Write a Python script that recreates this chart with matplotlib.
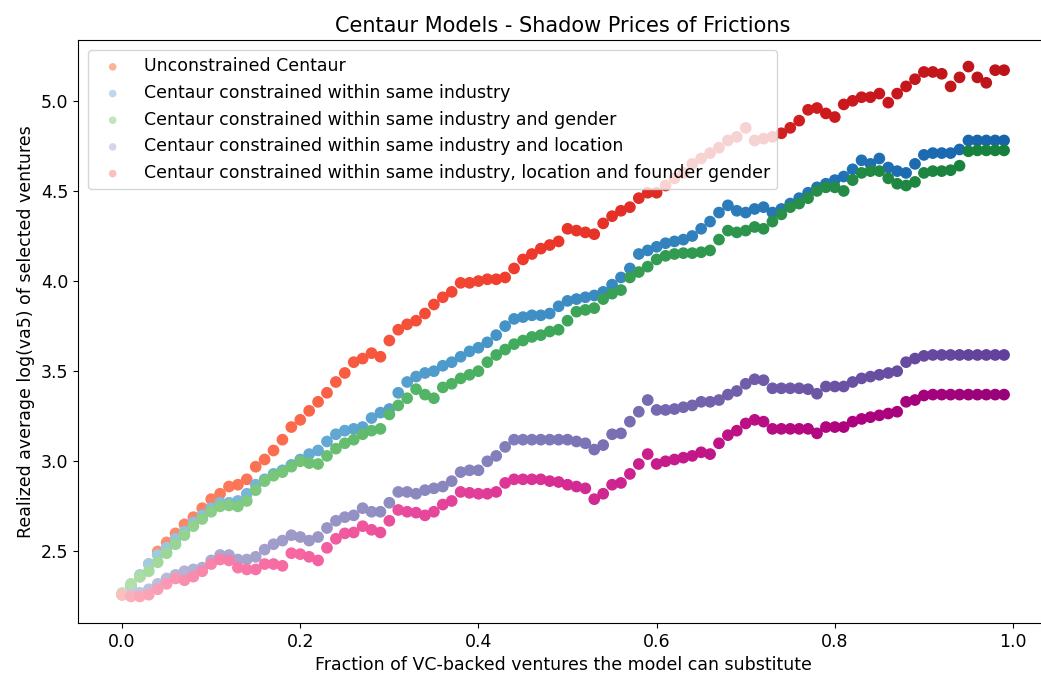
import numpy as np
import matplotlib
matplotlib.use("Agg")
import matplotlib.pyplot as plt

# fraction of VC-backed ventures the model can substitute
frac = np.round(np.arange(100) * 0.01, 2)

unconstrained = [
    2.26, 2.30, 2.36, 2.43, 2.50, 2.55, 2.60, 2.65, 2.69, 2.74,
    2.79, 2.82, 2.86, 2.87, 2.90, 2.97, 3.01, 3.06, 3.12, 3.19,
    3.23, 3.28, 3.33, 3.38, 3.44, 3.49, 3.55, 3.57, 3.60, 3.58,
    3.67, 3.73, 3.76, 3.78, 3.82, 3.87, 3.91, 3.94, 3.99, 3.99,
    4.00, 4.01, 4.01, 4.02, 4.07, 4.12, 4.15, 4.18, 4.20, 4.22,
    4.29, 4.28, 4.27, 4.26, 4.32, 4.36, 4.39, 4.41, 4.46, 4.49,
    4.49, 4.53, 4.57, 4.60, 4.65, 4.68, 4.71, 4.74, 4.78, 4.80,
    4.85, 4.78, 4.79, 4.80, 4.82, 4.85, 4.89, 4.95, 4.96, 4.93,
    4.91, 4.98, 5.00, 5.02, 5.02, 5.04, 4.99, 5.04, 5.08, 5.12,
    5.16, 5.16, 5.15, 5.08, 5.13, 5.19, 5.13, 5.10, 5.17, 5.17,
]

same_industry = [
    2.26, 2.31, 2.37, 2.43, 2.48, 2.52, 2.57, 2.61, 2.66, 2.70,
    2.74, 2.77, 2.77, 2.78, 2.82, 2.87, 2.90, 2.93, 2.95, 2.98,
    3.01, 3.04, 3.06, 3.11, 3.15, 3.17, 3.18, 3.19, 3.24, 3.27,
    3.29, 3.38, 3.44, 3.47, 3.49, 3.50, 3.53, 3.55, 3.58, 3.61,
    3.63, 3.66, 3.70, 3.75, 3.79, 3.80, 3.81, 3.81, 3.82, 3.86,
    3.89, 3.90, 3.91, 3.92, 3.94, 3.98, 4.02, 4.07, 4.15, 4.17,
    4.19, 4.21, 4.22, 4.23, 4.25, 4.29, 4.33, 4.38, 4.42, 4.39,
    4.38, 4.40, 4.41, 4.38, 4.40, 4.43, 4.46, 4.49, 4.52, 4.54,
    4.56, 4.58, 4.62, 4.67, 4.65, 4.68, 4.63, 4.61, 4.60, 4.65,
    4.70, 4.71, 4.71, 4.71, 4.73, 4.78, 4.78, 4.78, 4.78, 4.78,
]

industry_gender = [
    2.27, 2.32, 2.36, 2.39, 2.44, 2.49, 2.54, 2.59, 2.64, 2.68,
    2.72, 2.75, 2.755, 2.75, 2.78, 2.84, 2.89, 2.92, 2.94, 2.97,
    3.00, 2.99, 2.985, 3.03, 3.07, 3.10, 3.12, 3.15, 3.17, 3.18,
    3.26, 3.31, 3.35, 3.40, 3.37, 3.35, 3.41, 3.43, 3.46, 3.48,
    3.50, 3.55, 3.59, 3.62, 3.65, 3.67, 3.69, 3.70, 3.72, 3.73,
    3.78, 3.83, 3.84, 3.85, 3.90, 3.93, 3.95, 4.02, 4.05, 4.08,
    4.12, 4.14, 4.15, 4.155, 4.155, 4.16, 4.17, 4.23, 4.28, 4.27,
    4.28, 4.30, 4.29, 4.33, 4.37, 4.41, 4.43, 4.46, 4.50, 4.52,
    4.52, 4.50, 4.56, 4.60, 4.61, 4.61, 4.57, 4.54, 4.53, 4.55,
    4.60, 4.61, 4.61, 4.615, 4.64, 4.72, 4.725, 4.725, 4.725, 4.725,
]

industry_location = [
    2.26, 2.26, 2.27, 2.29, 2.32, 2.35, 2.37, 2.39, 2.40, 2.41,
    2.45, 2.48, 2.48, 2.455, 2.455, 2.47, 2.51, 2.54, 2.56, 2.59,
    2.58, 2.56, 2.58, 2.63, 2.67, 2.69, 2.70, 2.74, 2.72, 2.72,
    2.77, 2.83, 2.83, 2.82, 2.84, 2.85, 2.86, 2.89, 2.94, 2.95,
    2.95, 3.00, 3.03, 3.08, 3.12, 3.12, 3.12, 3.12, 3.12, 3.12,
    3.12, 3.11, 3.10, 3.065, 3.09, 3.15, 3.155, 3.22, 3.275, 3.34,
    3.285, 3.285, 3.29, 3.30, 3.31, 3.33, 3.33, 3.34, 3.37, 3.39,
    3.43, 3.455, 3.45, 3.405, 3.405, 3.405, 3.405, 3.40, 3.375, 3.415,
    3.415, 3.415, 3.44, 3.46, 3.47, 3.48, 3.49, 3.50, 3.55, 3.57,
    3.585, 3.59, 3.59, 3.59, 3.59, 3.59, 3.59, 3.59, 3.59, 3.59,
]

industry_location_gender = [
    2.26, 2.25, 2.25, 2.26, 2.29, 2.32, 2.35, 2.34, 2.36, 2.39,
    2.43, 2.455, 2.45, 2.41, 2.40, 2.40, 2.43, 2.43, 2.42, 2.49,
    2.485, 2.47, 2.45, 2.52, 2.57, 2.60, 2.605, 2.64, 2.62, 2.605,
    2.67, 2.73, 2.72, 2.715, 2.70, 2.72, 2.76, 2.78, 2.83, 2.825,
    2.82, 2.82, 2.83, 2.88, 2.90, 2.90, 2.90, 2.90, 2.89, 2.885,
    2.87, 2.86, 2.85, 2.79, 2.82, 2.87, 2.88, 2.93, 2.985, 3.04,
    2.985, 3.00, 3.01, 3.02, 3.03, 3.05, 3.04, 3.10, 3.145, 3.17,
    3.21, 3.23, 3.22, 3.18, 3.18, 3.18, 3.18, 3.18, 3.155, 3.19,
    3.19, 3.19, 3.22, 3.235, 3.245, 3.255, 3.265, 3.275, 3.33, 3.34,
    3.365, 3.37, 3.37, 3.37, 3.37, 3.37, 3.37, 3.37, 3.37, 3.37,
]

labels = [
    "Unconstrained Centaur",
    "Centaur constrained within same industry",
    "Centaur constrained within same industry and gender",
    "Centaur constrained within same industry and location",
    "Centaur constrained within same industry, location and founder gender",
]
series = [unconstrained, same_industry, industry_gender,
          industry_location, industry_location_gender]
cmaps = ["Reds", "Blues", "Greens", "Purples", "RdPu"]

plt.rcParams["font.size"] = 12.5

fig = plt.figure(figsize=(10.41, 6.77), dpi=100)
ax = fig.add_axes([0.0749, 0.0798, 0.932, 0.861])

# colour runs from pale to dark along the x axis
shade = 0.27 + 0.53 * np.sqrt(frac)
for vals, lab, cm in zip(series, labels, cmaps):
    ax.scatter(frac, vals, c=shade, cmap=cm, vmin=0, vmax=1, s=55,
               label=lab)

ax.set_xlim(-0.0495, 1.0395)
ax.set_title("Centaur Models - Shadow Prices of Frictions", fontsize=15)
ax.set_xlabel("Fraction of VC-backed ventures the model can substitute")
ax.set_ylabel("Realized average log(va5) of selected ventures")
ax.legend(loc="upper left", markerscale=0.6, borderaxespad=0.6)

fig.savefig("out.png", dpi=100)
